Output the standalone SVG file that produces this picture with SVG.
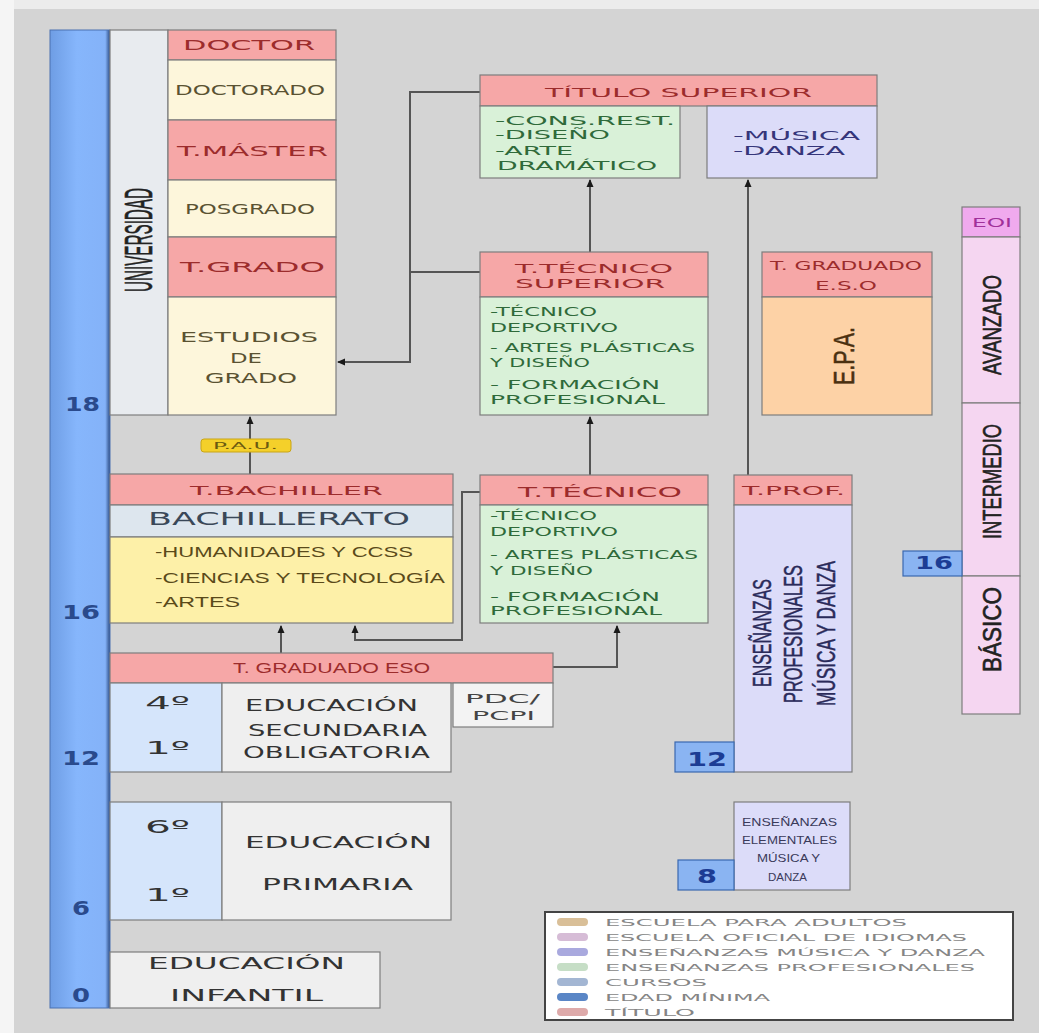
<svg xmlns="http://www.w3.org/2000/svg" width="1039" height="1033" viewBox="0 0 1039 1033">
<defs>
<linearGradient id="ageGrad" x1="0" y1="0" x2="1" y2="0">
<stop offset="0" stop-color="#6e9de4"/>
<stop offset="0.45" stop-color="#86b6fc"/>
<stop offset="0.92" stop-color="#84b2f8"/>
<stop offset="1" stop-color="#2c4c84"/>
</linearGradient>
<marker id="arr" markerWidth="8" markerHeight="8" refX="7" refY="4" orient="auto" markerUnits="userSpaceOnUse">
<path d="M0,0.5 L8,4 L0,7.5 Z" fill="#1a1a1a"/>
</marker>
<style>
text{font-family:"DejaVu Sans","Liberation Sans",sans-serif}
.nar{font-family:"Liberation Sans","DejaVu Sans",sans-serif}
.bx{stroke:#7d7d7d;stroke-width:1.2}
.pink{fill:#f6a7a7}
.cream{fill:#fdf6db}
.green{fill:#d9f1d8}
.lav{fill:#dcdcf9}
.orange{fill:#fdd2a6}
.eoi{fill:#f5d6f1}
.curso{fill:#d5e5fb}
.grey{fill:#efefef}
.age{fill:#8ab4f2;stroke:#3a68b0;stroke-width:1.2}
.tp{fill:#9c2c2c;font-size:14px}
.tc{fill:#5a5232;font-size:14px}
.tg{fill:#2f6a3a;font-size:12px}
.tl{fill:#35357a;font-size:12px}
.tv{fill:#222;stroke:#222;stroke-width:0.6}
.tn{fill:#2a4a8c;font-size:20px;font-weight:bold}
.tb{fill:#1c3c94;font-size:20px;font-weight:bold}
.te{fill:#333;font-size:15px}
.leg{fill:#858585;font-size:9px}
.conn{fill:none;stroke:#555;stroke-width:2}
</style>
</defs>

<rect x="0" y="0" width="1039" height="1033" fill="#d4d4d4"/>
<rect x="0" y="0" width="1039" height="9" fill="#ececec"/>
<rect x="0" y="0" width="14" height="1033" fill="#f5f5f5"/>

<g id="age-bar">
<rect x="50" y="30" width="60" height="978" fill="url(#ageGrad)" stroke="#4a70b0" stroke-width="1"/>
<text class="tn" x="65" y="411" textLength="35" lengthAdjust="spacingAndGlyphs">18</text>
<text class="tn" x="62" y="619" textLength="38" lengthAdjust="spacingAndGlyphs">16</text>
<text class="tn" x="62" y="765" textLength="38" lengthAdjust="spacingAndGlyphs">12</text>
<text class="tn" x="72" y="915" textLength="18" lengthAdjust="spacingAndGlyphs">6</text>
<text class="tn" x="72" y="1002" textLength="18" lengthAdjust="spacingAndGlyphs">0</text>
</g>

<g id="connectors">
<path class="conn" d="M250,475 L250,417" marker-end="url(#arr)"/>
<path class="conn" d="M281,653 L281,626" marker-end="url(#arr)"/>
<path class="conn" d="M480,492 L462,492 L462,640 L355,640 L355,626" marker-end="url(#arr)"/>
<path class="conn" d="M553,667 L617,667 L617,626" marker-end="url(#arr)"/>
<path class="conn" d="M590,475 L590,417" marker-end="url(#arr)"/>
<path class="conn" d="M590,252 L590,180" marker-end="url(#arr)"/>
<path class="conn" d="M748,475 L748,180" marker-end="url(#arr)"/>
<path class="conn" d="M480,92 L410,92 L410,362 L338,362" marker-end="url(#arr)"/>
<path class="conn" d="M480,272 L410,272"/>
</g>

<g id="universidad">
<rect x="110" y="30" width="58" height="385" fill="#e8ebef" class="bx"/>
<text class="nar tv" transform="translate(138,240) rotate(-90)" x="-52" y="14" font-size="39" textLength="104" lengthAdjust="spacingAndGlyphs">UNIVERSIDAD</text>
</g>

<g id="doctor">
<rect x="168" y="30" width="168" height="30" class="pink bx"/>
<text class="tp" x="183" y="50" textLength="132" lengthAdjust="spacingAndGlyphs">DOCTOR</text>
</g>
<g id="doctorado">
<rect x="168" y="60" width="168" height="60" class="cream bx"/>
<text class="tc" x="175" y="95" textLength="150" lengthAdjust="spacingAndGlyphs">DOCTORADO</text>
</g>
<g id="t-master">
<rect x="168" y="120" width="168" height="60" class="pink bx"/>
<text class="tp" x="177" y="156" textLength="151" lengthAdjust="spacingAndGlyphs">T.MÁSTER</text>
</g>
<g id="posgrado">
<rect x="168" y="180" width="168" height="57" class="cream bx"/>
<text class="tc" x="185" y="214" textLength="130" lengthAdjust="spacingAndGlyphs">POSGRADO</text>
</g>
<g id="t-grado">
<rect x="168" y="237" width="168" height="60" class="pink bx"/>
<text class="tp" x="180" y="272" textLength="145" lengthAdjust="spacingAndGlyphs">T.GRADO</text>
</g>
<g id="estudios-grado">
<rect x="168" y="297" width="168" height="118" class="cream bx"/>
<text class="tc" x="180" y="342" textLength="138" lengthAdjust="spacingAndGlyphs">ESTUDIOS</text>
<text class="tc" x="230" y="363" textLength="32" lengthAdjust="spacingAndGlyphs">DE</text>
<text class="tc" x="205" y="383" textLength="92" lengthAdjust="spacingAndGlyphs">GRADO</text>
</g>

<g id="pau">
<rect x="201" y="439" width="90" height="13" rx="3" fill="#f4d02a" stroke="#c9a516" stroke-width="1"/>
<text x="213" y="448.5" font-size="8" fill="#6a5a10" textLength="65" lengthAdjust="spacingAndGlyphs">P.A.U.</text>
</g>

<g id="titulo-superior">
<rect x="480" y="75" width="397" height="31" class="pink bx"/>
<text class="tp" x="545" y="96.5" textLength="267" lengthAdjust="spacingAndGlyphs" style="font-size:12px">TÍTULO SUPERIOR</text>
</g>
<g id="ts-artes">
<rect x="480" y="106" width="200" height="72" class="green bx"/>
<text class="tg" x="495" y="125" style="font-size:13px" textLength="180" lengthAdjust="spacingAndGlyphs">-CONS.REST.</text>
<text class="tg" x="495" y="139" style="font-size:13px" textLength="115" lengthAdjust="spacingAndGlyphs">-DISEÑO</text>
<text class="tg" x="495" y="155" style="font-size:13px" textLength="78" lengthAdjust="spacingAndGlyphs">-ARTE</text>
<text class="tg" x="497" y="170" style="font-size:13px" textLength="160" lengthAdjust="spacingAndGlyphs">DRAMÁTICO</text>
</g>
<g id="ts-musica">
<rect x="707" y="106" width="170" height="72" class="lav bx"/>
<text class="tl" x="733" y="139.5" textLength="127" lengthAdjust="spacingAndGlyphs">-MÚSICA</text>
<text class="tl" x="733" y="154.5" textLength="112" lengthAdjust="spacingAndGlyphs">-DANZA</text>
</g>

<g id="t-tecnico-superior">
<rect x="480" y="252" width="228" height="45" class="pink bx"/>
<text class="tp" x="515" y="273" style="font-size:13px" textLength="158" lengthAdjust="spacingAndGlyphs">T.TÉCNICO</text>
<text class="tp" x="515" y="288" style="font-size:13px" textLength="150" lengthAdjust="spacingAndGlyphs">SUPERIOR</text>
<rect x="480" y="297" width="228" height="118" class="green bx"/>
<text class="tg" x="490" y="316" textLength="107" lengthAdjust="spacingAndGlyphs">-TÉCNICO</text>
<text class="tg" x="490" y="332" textLength="128" lengthAdjust="spacingAndGlyphs">DEPORTIVO</text>
<text class="tg" x="490" y="352" textLength="205" lengthAdjust="spacingAndGlyphs">- ARTES PLÁSTICAS</text>
<text class="tg" x="490" y="367" textLength="100" lengthAdjust="spacingAndGlyphs">Y DISEÑO</text>
<text class="tg" x="490" y="389" textLength="170" lengthAdjust="spacingAndGlyphs">- FORMACIÓN</text>
<text class="tg" x="490" y="404" textLength="175" lengthAdjust="spacingAndGlyphs">PROFESIONAL</text>
</g>

<g id="t-graduado-eso-adultos">
<rect x="762" y="252" width="170" height="45" class="pink bx"/>
<text class="tp" x="770" y="270" style="font-size:13px" textLength="152" lengthAdjust="spacingAndGlyphs">T. GRADUADO</text>
<text class="tp" x="815" y="290" style="font-size:13px" textLength="62" lengthAdjust="spacingAndGlyphs">E.S.O</text>
<rect x="762" y="297" width="170" height="118" class="orange bx"/>
<text class="nar" fill="#4a3010" stroke="#4a3010" stroke-width="0.5" transform="translate(843,356) rotate(-90)" x="-29" y="11" font-size="30" textLength="58" lengthAdjust="spacingAndGlyphs">E.P.A.</text>
</g>

<g id="eoi">
<rect x="962" y="207" width="58" height="30" fill="#f0aaee" class="bx"/>
<text x="972" y="226.5" font-size="12" fill="#a0309a" textLength="40" lengthAdjust="spacingAndGlyphs">EOI</text>
<rect x="962" y="237" width="58" height="166" class="eoi bx"/>
<text class="nar tv" transform="translate(992,325) rotate(-90)" x="-50" y="9" font-size="25" textLength="100" lengthAdjust="spacingAndGlyphs">AVANZADO</text>
<rect x="962" y="403" width="58" height="173" class="eoi bx"/>
<text class="nar tv" transform="translate(992,482) rotate(-90)" x="-57" y="9" font-size="25" textLength="115" lengthAdjust="spacingAndGlyphs">INTERMEDIO</text>
<rect x="962" y="576" width="58" height="138" class="eoi bx"/>
<text class="nar tv" transform="translate(992,630) rotate(-90)" x="-42" y="9" font-size="25" textLength="85" lengthAdjust="spacingAndGlyphs">BÁSICO</text>
</g>
<g id="edad-eoi">
<rect x="903" y="551" width="59" height="25" class="age"/>
<text class="tb" x="915" y="569" style="font-size:18px" textLength="38" lengthAdjust="spacingAndGlyphs">16</text>
</g>

<g id="bachillerato">
<rect x="110" y="474" width="343" height="31" class="pink bx"/>
<text class="tp" x="190" y="495" style="font-size:13px" textLength="193" lengthAdjust="spacingAndGlyphs">T.BACHILLER</text>
<rect x="110" y="505" width="343" height="32" fill="#dde6ee" class="bx"/>
<text x="148" y="525" font-size="17" fill="#3a4858" textLength="262" lengthAdjust="spacingAndGlyphs">BACHILLERATO</text>
<rect x="110" y="537" width="343" height="86" fill="#fdf0a8" class="bx"/>
<text class="nar" x="155" y="557" font-size="15" fill="#5a4a1a" textLength="258" lengthAdjust="spacingAndGlyphs">-HUMANIDADES Y CCSS</text>
<text class="nar" x="155" y="583" font-size="15" fill="#5a4a1a" textLength="290" lengthAdjust="spacingAndGlyphs">-CIENCIAS Y TECNOLOGÍA</text>
<text class="nar" x="155" y="607" font-size="15" fill="#5a4a1a" textLength="85" lengthAdjust="spacingAndGlyphs">-ARTES</text>
</g>

<g id="t-tecnico">
<rect x="480" y="475" width="228" height="30" class="pink bx"/>
<text class="tp" x="518" y="497" textLength="164" lengthAdjust="spacingAndGlyphs">T.TÉCNICO</text>
<rect x="480" y="505" width="228" height="118" class="green bx"/>
<text class="tg" x="490" y="520" textLength="107" lengthAdjust="spacingAndGlyphs">-TÉCNICO</text>
<text class="tg" x="490" y="536" textLength="128" lengthAdjust="spacingAndGlyphs">DEPORTIVO</text>
<text class="tg" x="490" y="559" textLength="208" lengthAdjust="spacingAndGlyphs">- ARTES PLÁSTICAS</text>
<text class="tg" x="490" y="575" textLength="103" lengthAdjust="spacingAndGlyphs">Y DISEÑO</text>
<text class="tg" x="490" y="601" textLength="170" lengthAdjust="spacingAndGlyphs">- FORMACIÓN</text>
<text class="tg" x="490" y="615" textLength="172" lengthAdjust="spacingAndGlyphs">PROFESIONAL</text>
</g>

<g id="ens-profesionales">
<rect x="734" y="475" width="118" height="30" class="pink bx"/>
<text class="tp" x="742" y="495" style="font-size:13px" textLength="103" lengthAdjust="spacingAndGlyphs">T.PROF.</text>
<rect x="734" y="505" width="118" height="267" class="lav bx"/>
<text class="nar" fill="#2a2a5a" stroke="#2a2a5a" stroke-width="0.5" transform="translate(762,633) rotate(-90)" x="-54" y="9" font-size="26" textLength="108" lengthAdjust="spacingAndGlyphs">ENSEÑANZAS</text>
<text class="nar" fill="#2a2a5a" stroke="#2a2a5a" stroke-width="0.5" transform="translate(793,634) rotate(-90)" x="-69" y="9" font-size="26" textLength="138" lengthAdjust="spacingAndGlyphs">PROFESIONALES</text>
<text class="nar" fill="#2a2a5a" stroke="#2a2a5a" stroke-width="0.5" transform="translate(826,634) rotate(-90)" x="-72" y="9" font-size="26" textLength="145" lengthAdjust="spacingAndGlyphs">MÚSICA Y DANZA</text>
</g>
<g id="edad-prof">
<rect x="675" y="742" width="59" height="30" class="age"/>
<text class="tb" x="687" y="766" textLength="40" lengthAdjust="spacingAndGlyphs">12</text>
</g>

<g id="t-graduado-eso">
<rect x="110" y="653" width="443" height="30" class="pink bx"/>
<text class="nar tp" x="233" y="672.5" style="font-size:15px" textLength="197" lengthAdjust="spacingAndGlyphs">T. GRADUADO ESO</text>
</g>
<g id="eso">
<rect x="110" y="683" width="112" height="89" class="curso bx"/>
<text class="te" x="145" y="709" style="font-size:17px" textLength="45" lengthAdjust="spacingAndGlyphs">4º</text>
<text class="te" x="145" y="754" style="font-size:17px" textLength="45" lengthAdjust="spacingAndGlyphs">1º</text>
<rect x="222" y="683" width="229" height="89" class="grey bx"/>
<text class="te" x="245" y="710.5" textLength="173" lengthAdjust="spacingAndGlyphs">EDUCACIÓN</text>
<text class="te" x="248" y="735.5" textLength="179" lengthAdjust="spacingAndGlyphs">SECUNDARIA</text>
<text class="te" x="243" y="757.5" textLength="187" lengthAdjust="spacingAndGlyphs">OBLIGATORIA</text>
</g>
<g id="pdc-pcpi">
<rect x="453" y="683" width="100" height="44" fill="#f3f3f3" class="bx"/>
<text x="465" y="702.5" font-size="12" fill="#444" textLength="75" lengthAdjust="spacingAndGlyphs">PDC/</text>
<text x="472" y="719.5" font-size="12" fill="#444" textLength="63" lengthAdjust="spacingAndGlyphs">PCPI</text>
</g>

<g id="primaria">
<rect x="110" y="802" width="112" height="118" class="curso bx"/>
<text class="te" x="145" y="833" style="font-size:17px" textLength="45" lengthAdjust="spacingAndGlyphs">6º</text>
<text class="te" x="145" y="901" style="font-size:17px" textLength="45" lengthAdjust="spacingAndGlyphs">1º</text>
<rect x="222" y="802" width="229" height="118" class="grey bx"/>
<text class="te" x="245" y="847.5" textLength="187" lengthAdjust="spacingAndGlyphs">EDUCACIÓN</text>
<text class="te" x="262" y="889.5" textLength="151" lengthAdjust="spacingAndGlyphs">PRIMARIA</text>
</g>

<g id="infantil">
<rect x="110" y="952" width="270" height="56" class="grey bx"/>
<text class="te" x="148" y="968.5" textLength="197" lengthAdjust="spacingAndGlyphs">EDUCACIÓN</text>
<text class="te" x="170" y="1000.5" textLength="153" lengthAdjust="spacingAndGlyphs">INFANTIL</text>
</g>

<g id="ens-elementales">
<rect x="734" y="802" width="116" height="88" class="lav bx"/>
<text class="nar" x="742" y="826" font-size="11" fill="#3a3a5a" textLength="95" lengthAdjust="spacingAndGlyphs">ENSEÑANZAS</text>
<text class="nar" x="742" y="844" font-size="11" fill="#3a3a5a" textLength="95" lengthAdjust="spacingAndGlyphs">ELEMENTALES</text>
<text class="nar" x="757" y="862" font-size="11" fill="#3a3a5a" textLength="63" lengthAdjust="spacingAndGlyphs">MÚSICA Y</text>
<text class="nar" x="768" y="881" font-size="11" fill="#3a3a5a" textLength="39" lengthAdjust="spacingAndGlyphs">DANZA</text>
</g>
<g id="edad-elem">
<rect x="678" y="860" width="56" height="30" class="age"/>
<text class="tb" x="697" y="883" textLength="20" lengthAdjust="spacingAndGlyphs">8</text>
</g>

<g id="leyenda">
<rect x="545" y="912" width="468" height="108" fill="#ffffff" stroke="#444" stroke-width="2"/>
<rect x="557" y="918" width="31" height="8" rx="4" fill="#d9bf98"/>
<rect x="557" y="933" width="31" height="8" rx="4" fill="#d6bcd6"/>
<rect x="557" y="948" width="31" height="8" rx="4" fill="#a9a9de"/>
<rect x="557" y="963" width="31" height="8" rx="4" fill="#c6dec6"/>
<rect x="557" y="978" width="31" height="8" rx="4" fill="#a3b6d3"/>
<rect x="557" y="993" width="31" height="8" rx="4" fill="#5a86c6"/>
<rect x="557" y="1008" width="31" height="8" rx="4" fill="#deaaaa"/>
<text class="leg" x="605" y="925.5" textLength="302" lengthAdjust="spacingAndGlyphs">ESCUELA PARA ADULTOS</text>
<text class="leg" x="605" y="940.5" textLength="362" lengthAdjust="spacingAndGlyphs">ESCUELA OFICIAL DE IDIOMAS</text>
<text class="leg" x="605" y="955.5" textLength="380" lengthAdjust="spacingAndGlyphs">ENSEÑANZAS MÚSICA Y DANZA</text>
<text class="leg" x="605" y="970.5" textLength="370" lengthAdjust="spacingAndGlyphs">ENSEÑANZAS PROFESIONALES</text>
<text class="leg" x="605" y="985.5" textLength="102" lengthAdjust="spacingAndGlyphs">CURSOS</text>
<text class="leg" x="605" y="1000.5" textLength="165" lengthAdjust="spacingAndGlyphs">EDAD MÍNIMA</text>
<text class="leg" x="605" y="1015.5" textLength="90" lengthAdjust="spacingAndGlyphs">TÍTULO</text>
</g>
</svg>
